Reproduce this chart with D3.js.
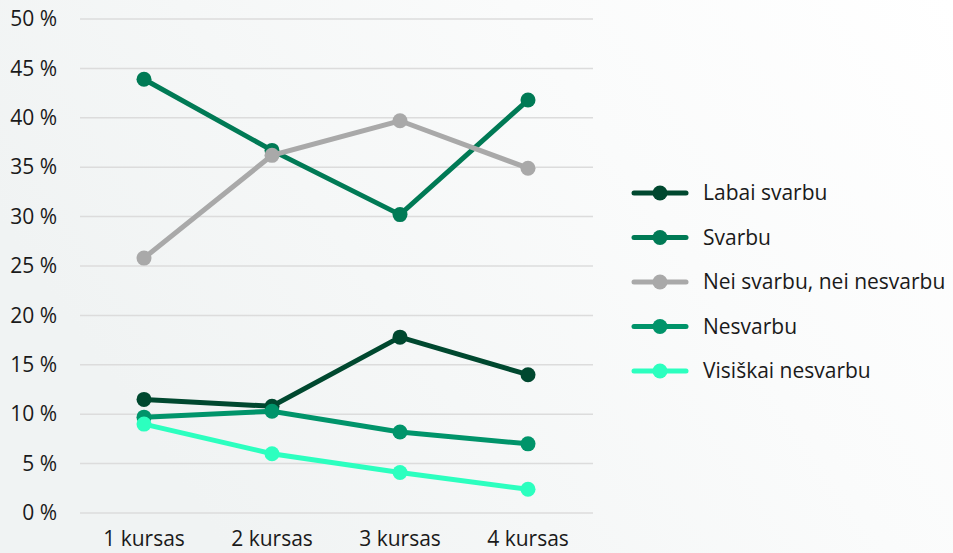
<!DOCTYPE html>
<html>
<head>
<meta charset="utf-8">
<script src="https://cdn.jsdelivr.net/npm/d3@7"></script>
<style>
  body { margin: 0; }
  svg { display: block; font-family: "Open Sans", "Noto Sans", sans-serif; }
</style>
</head>
<body>
<div id="chart"></div>
<script>
var categories = ["1 kursas", "2 kursas", "3 kursas", "4 kursas"];
var seriesNames = ["Labai svarbu", "Svarbu", "Nei svarbu, nei nesvarbu", "Nesvarbu", "Visiškai nesvarbu"];
var labaiSvarbu = [11.5, 10.8, 17.8, 14.0];
var svarbu = [43.9, 36.7, 30.2, 41.8];
var neiSvarbu = [25.8, 36.2, 39.7, 34.9];
var nesvarbu = [9.7, 10.3, 8.2, 7.0];
var visiskaiNesvarbu = [9.0, 6.0, 4.1, 2.4];
var yTicks = [0, 5, 10, 15, 20, 25, 30, 35, 40, 45, 50];
var colors = ["#00482f", "#007a55", "#a9a9a9", "#00946a", "#2cffbf"];

var width = 953, height = 553;
var series = [labaiSvarbu, svarbu, neiSvarbu, nesvarbu, visiskaiNesvarbu].map(function (vals, i) {
  return {name: seriesNames[i], color: colors[i], values: vals};
});

var svg = d3.select("#chart").append("svg")
  .attr("width", width)
  .attr("height", height);

var grad = svg.append("defs").append("linearGradient")
  .attr("id", "bg")
  .attr("x1", "0%").attr("y1", "40%")
  .attr("x2", "100%").attr("y2", "0%");
grad.append("stop").attr("offset", "0%").attr("stop-color", "#f0f3f3");
grad.append("stop").attr("offset", "60%").attr("stop-color", "#fafbfb");
grad.append("stop").attr("offset", "100%").attr("stop-color", "#ffffff");

svg.append("rect")
  .attr("width", width)
  .attr("height", height)
  .attr("fill", "url(#bg)");

var x = d3.scaleBand().domain(categories).range([80, 592]);
var y = d3.scaleLinear().domain([0, 50]).range([513, 19]);

// grid
svg.append("g")
  .selectAll("line")
  .data(yTicks)
  .enter()
  .append("line")
  .attr("x1", 80)
  .attr("x2", 593)
  .attr("y1", function (d) { return y(d); })
  .attr("y2", function (d) { return y(d); })
  .attr("stroke", "#dcdcdc")
  .attr("stroke-width", 1.5);

// y axis
var yAxis = svg.append("g")
  .attr("transform", "translate(57,0)")
  .call(d3.axisLeft(y).tickValues(yTicks).tickSize(0).tickPadding(0)
    .tickFormat(function (d) { return d + " %"; }));
yAxis.select(".domain").remove();
yAxis.selectAll("text")
  .attr("font-size", 21)
  .attr("font-family", "'Open Sans', 'Noto Sans', sans-serif")
  .attr("fill", "#1a1a1a");

// x axis
var xAxis = svg.append("g")
  .attr("transform", "translate(0,531)")
  .call(d3.axisBottom(x).tickSize(0).tickPadding(0));
xAxis.select(".domain").remove();
xAxis.selectAll("text")
  .attr("font-size", 21)
  .attr("font-family", "'Open Sans', 'Noto Sans', sans-serif")
  .attr("fill", "#1a1a1a");

var line = d3.line()
  .x(function (d, i) { return x(categories[i]) + x.bandwidth() / 2; })
  .y(function (d) { return y(d); });

// later series are drawn on top, as in the reference
var seriesG = svg.selectAll(".series")
  .data(series)
  .enter()
  .append("g")
  .attr("class", "series");

seriesG.append("path")
  .attr("d", function (d) { return line(d.values); })
  .attr("fill", "none")
  .attr("stroke", function (d) { return d.color; })
  .attr("stroke-width", 5);

seriesG.selectAll("circle")
  .data(function (d) { return d.values.map(function (v, i) { return {v: v, i: i, color: d.color}; }); })
  .enter()
  .append("circle")
  .attr("cx", function (d) { return x(categories[d.i]) + x.bandwidth() / 2; })
  .attr("cy", function (d) { return y(d.v); })
  .attr("r", 7.5)
  .attr("fill", function (d) { return d.color; });

// legend
var legend = svg.append("g").attr("transform", "translate(632,193)");
var item = legend.selectAll(".item")
  .data(series)
  .enter()
  .append("g")
  .attr("class", "item")
  .attr("transform", function (d, i) { return "translate(0," + (i * 44.5) + ")"; });

item.append("line")
  .attr("x1", 2).attr("x2", 54)
  .attr("stroke", function (d) { return d.color; })
  .attr("stroke-width", 5)
  .attr("stroke-linecap", "round");
item.append("circle")
  .attr("cx", 28)
  .attr("r", 7.5)
  .attr("fill", function (d) { return d.color; });
item.append("text")
  .attr("x", 71)
  .attr("dy", "0.35em")
  .attr("font-size", 21)
  .attr("fill", "#1a1a1a")
  .text(function (d) { return d.name; });
</script>
</body>
</html>
